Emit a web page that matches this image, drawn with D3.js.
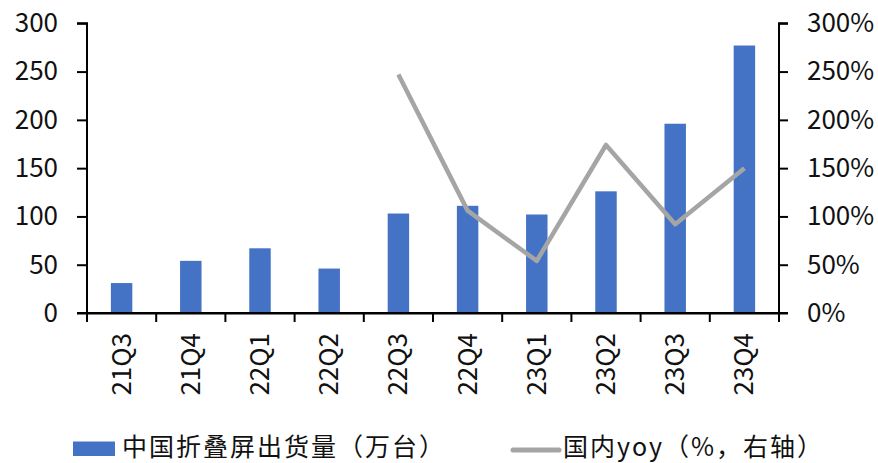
<!DOCTYPE html>
<html><head><meta charset="utf-8">
<script src="https://cdn.jsdelivr.net/npm/d3@7"></script>
<style>
body{margin:0;background:#fff;}
text{font-family:"Noto Sans CJK SC","Noto Sans",sans-serif;fill:#111;}
</style></head>
<body><svg id="c" width="878" height="463"></svg>
<script>
const categories = ["21Q3","21Q4","22Q1","22Q2","22Q3","22Q4","23Q1","23Q2","23Q3","23Q4"];
const shipments = [31, 54, 67, 46, 103, 111, 102, 126, 196, 277];
const yoy = [null, null, null, null, 247, 106, 54, 174, 92, 150];
const leftTicks = [0, 50, 100, 150, 200, 250, 300];
const rightTicks = [0, 50, 100, 150, 200, 250, 300];
const seriesNames = ["中国折叠屏出货量（万台）", "国内yoy（%，右轴）"];

const svg = d3.select("#c");
const L = 87, R = 779, T = 23.3, B = 313;
const fs = 26;

const x = d3.scaleBand().domain(categories).range([L, R]).paddingInner(0).paddingOuter(0);
const yL = d3.scaleLinear().domain([0, 300]).range([B, T]);
const yR = d3.scaleLinear().domain([0, 300]).range([B, T]);

// bars
const bw = x.bandwidth() * 0.31;
svg.append("g").selectAll("rect").data(categories).join("rect")
  .attr("x", (d) => x(d) + x.bandwidth()/2 - bw/2)
  .attr("y", (d,i) => yL(shipments[i]))
  .attr("width", bw)
  .attr("height", (d,i) => B - yL(shipments[i]))
  .attr("fill", "#4472C4");

// line
const line = d3.line()
  .defined(d => d.v != null)
  .x(d => x(d.c) + x.bandwidth()/2)
  .y(d => yR(d.v));
svg.append("path")
  .datum(categories.map((c,i) => ({c, v: yoy[i]})))
  .attr("d", line)
  .attr("fill", "none")
  .attr("stroke", "#A5A5A5")
  .attr("stroke-width", 4.5)
  .attr("stroke-linejoin", "round");

// left axis
const gl = svg.append("g").attr("transform", `translate(${L},0)`)
  .call(d3.axisLeft(yL).tickValues(leftTicks).tickSize(10).tickPadding(19));
// right axis
const gr = svg.append("g").attr("transform", `translate(${R},0)`)
  .call(d3.axisRight(yR).tickValues(rightTicks).tickFormat(d => d + "%").tickSize(9).tickPadding(19));
// bottom axis
const gb = svg.append("g").attr("transform", `translate(0,${B})`)
  .call(d3.axisBottom(x).tickSize(0).tickFormat(""));
// category boundary ticks
svg.append("g").selectAll("line").data(d3.range(categories.length + 1)).join("line")
  .attr("x1", i => L + i * x.bandwidth()).attr("x2", i => L + i * x.bandwidth())
  .attr("y1", B).attr("y2", B + 9)
  .attr("stroke", "#000").attr("stroke-width", 2);
// horizontal extension of axis
svg.append("line").attr("x1", L - 10).attr("x2", R + 9).attr("y1", B).attr("y2", B)
  .attr("stroke", "#000").attr("stroke-width", 2);

[gl, gr, gb].forEach(g => {
  g.selectAll("path.domain").attr("stroke", "#000").attr("stroke-width", 2);
  g.selectAll(".tick line").attr("stroke", "#000").attr("stroke-width", 2);
  g.selectAll("text").style("font-size", fs + "px").attr("fill", "#111")
    .style("font-family", '"Noto Sans CJK SC","Noto Sans",sans-serif');
});
gl.select("path.domain").attr("d", `M-10,${T}H0V${B}`);
gr.select("path.domain").attr("d", `M9,${T}H0V${B}`);

// x labels rotated
svg.append("g").selectAll("text").data(categories).join("text")
  .attr("transform", d => `translate(${x(d) + x.bandwidth()/2 + 9},${B + 20}) rotate(-90)`)
  .attr("text-anchor", "end")
  .style("font-size", fs + "px")
  .text(d => d);

// legend
const lg = svg.append("g");
lg.append("rect").attr("x", 73).attr("y", 441.5).attr("width", 42).attr("height", 14.5).attr("fill", "#4472C4");
lg.append("text").attr("x", 122).attr("y", 456).style("font-size", "25px").style("letter-spacing", "2px").text(seriesNames[0]);
lg.append("line").attr("x1", 513).attr("x2", 559).attr("y1", 450).attr("y2", 450)
  .attr("stroke", "#A5A5A5").attr("stroke-width", 5).attr("stroke-linecap", "round");
lg.append("text").attr("x", 563).attr("y", 456).style("font-size", "25px").style("letter-spacing", "2px").text(seriesNames[1]);
</script></body></html>
